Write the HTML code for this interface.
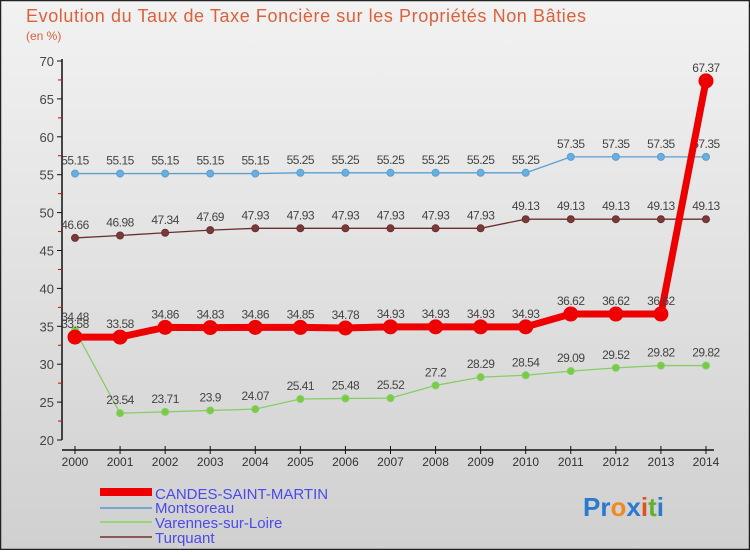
<!DOCTYPE html>
<html><head><meta charset="utf-8"><style>
body{margin:0;width:750px;height:550px;overflow:hidden;font-family:"Liberation Sans",sans-serif}
</style></head><body>
<svg width="750" height="550" xmlns="http://www.w3.org/2000/svg" id="svg">
<defs><linearGradient id="bg" x1="0" y1="0" x2="0" y2="1"><stop offset="0" stop-color="#f2f2f2"/><stop offset="1" stop-color="#d0d0d0"/></linearGradient></defs>
<rect x="0.5" y="0.5" width="749" height="549" fill="url(#bg)" stroke="#222" stroke-width="1.5"/>
<text x="26" y="22" font-size="18" fill="#e0603a" textLength="560">Evolution du Taux de Taxe Foncière sur les Propriétés Non Bâties</text>
<text x="26" y="40" font-size="12" fill="#e0603a">(en %)</text>
<g id="axes"></g><g id="series"></g>
<g>
<rect x="100" y="488" width="52" height="8" fill="#ee0000"/>
<text x="155" y="499" font-size="15" fill="#4a4aee">CANDES-SAINT-MARTIN</text>
<rect x="100" y="507" width="52" height="2" fill="#6fa8d0"/>
<text x="155" y="513" font-size="15" fill="#4a4aee">Montsoreau</text>
<rect x="100" y="521" width="52" height="2" fill="#99d577"/>
<text x="155" y="528" font-size="15" fill="#4a4aee">Varennes-sur-Loire</text>
<rect x="100" y="536" width="52" height="2" fill="#8a5a5a"/>
<text x="155" y="543" font-size="15" fill="#4a4aee">Turquant</text>
</g>
<g font-size="26" font-weight="bold">
<text x="583" y="516"><tspan fill="#2a7ad0">Pr</tspan><tspan fill="#f08a20">o</tspan><tspan fill="#2a7ad0">x</tspan><tspan fill="#e05020">i</tspan><tspan fill="#60b030">t</tspan><tspan fill="#2a7ad0">i</tspan></text>
</g>
</svg>
<script>
const years=[2000,2001,2002,2003,2004,2005,2006,2007,2008,2009,2010,2011,2012,2013,2014];
const candes=[33.58,33.58,34.86,34.83,34.86,34.85,34.78,34.93,34.93,34.93,34.93,36.62,36.62,36.62,67.37];
const montsoreau=[55.15,55.15,55.15,55.15,55.15,55.25,55.25,55.25,55.25,55.25,55.25,57.35,57.35,57.35,57.35];
const varennes=[34.48,23.54,23.71,23.9,24.07,25.41,25.48,25.52,27.2,28.29,28.54,29.09,29.52,29.82,29.82];
const turquant=[46.66,46.98,47.34,47.69,47.93,47.93,47.93,47.93,47.93,47.93,49.13,49.13,49.13,49.13,49.13];
const yTicks=[20,25,30,35,40,45,50,55,60,65,70];
const NS="http://www.w3.org/2000/svg";
const X=i=>75+i*45.07, Y=v=>440-(v-20)*7.58;
function mk(p,t,a){const e=document.createElementNS(NS,t);for(const k in a)e.setAttribute(k,a[k]);p.appendChild(e);return e;}
const ax=document.getElementById('axes');
let l=mk(ax,'path',{d:`M62 ${Y(70)-2}V${Y(20)}M62 450H${X(14)+8}`,stroke:'#111',fill:'none','stroke-width':1.5});

yTicks.forEach(v=>{
 let t=mk(ax,'line',{x1:57,x2:62,y1:Y(v),y2:Y(v),stroke:'#111'});
 
 let s=mk(ax,'text',{x:54,y:Y(v)+5,'text-anchor':'end','font-size':13,fill:'#444'});s.textContent=v;
 
 if(v<70){let m=mk(ax,'line',{x1:58,x2:62,y1:Y(v+2.5),y2:Y(v+2.5),stroke:'#d00'});
 }
});
years.forEach((yr,i)=>{
 let t=mk(ax,'line',{x1:X(i),x2:X(i),y1:446,y2:454,stroke:'#111'});
 
 let s=mk(ax,'text',{x:X(i),y:466,'text-anchor':'middle','font-size':12,fill:'#333'});s.textContent=yr;
 
});
const sg=document.getElementById('series');
function series(name,vals,col,dot,w,r){
 const g=mk(sg,'g',{});
 let p=mk(g,'polyline',{points:vals.map((v,i)=>X(i)+','+Y(v)).join(' '),fill:'none',stroke:col,'stroke-width':w});
 
 vals.forEach((v,i)=>{
  let c=mk(g,'circle',{cx:X(i),cy:Y(v),r:r,fill:dot,stroke:col,'stroke-width':1});
  
  let t=mk(g,'text',{x:X(i),y:Y(v)-9,'text-anchor':'middle','font-size':12,fill:'#444','letter-spacing':'-0.5'});t.textContent=v;
  
 });
}
series('montsoreau-series',montsoreau,'#5a9fd0','#6aaee0',1.3,3.5);
series('turquant-series',turquant,'#6a3030','#7a3a3a',1.3,3.5);
series('varennes-series',varennes,'#88cc66','#77cc44',1.3,3.5);
series('candes-series',candes,'#ee0000','#ee0000',7,7);
</script>
</body></html>
